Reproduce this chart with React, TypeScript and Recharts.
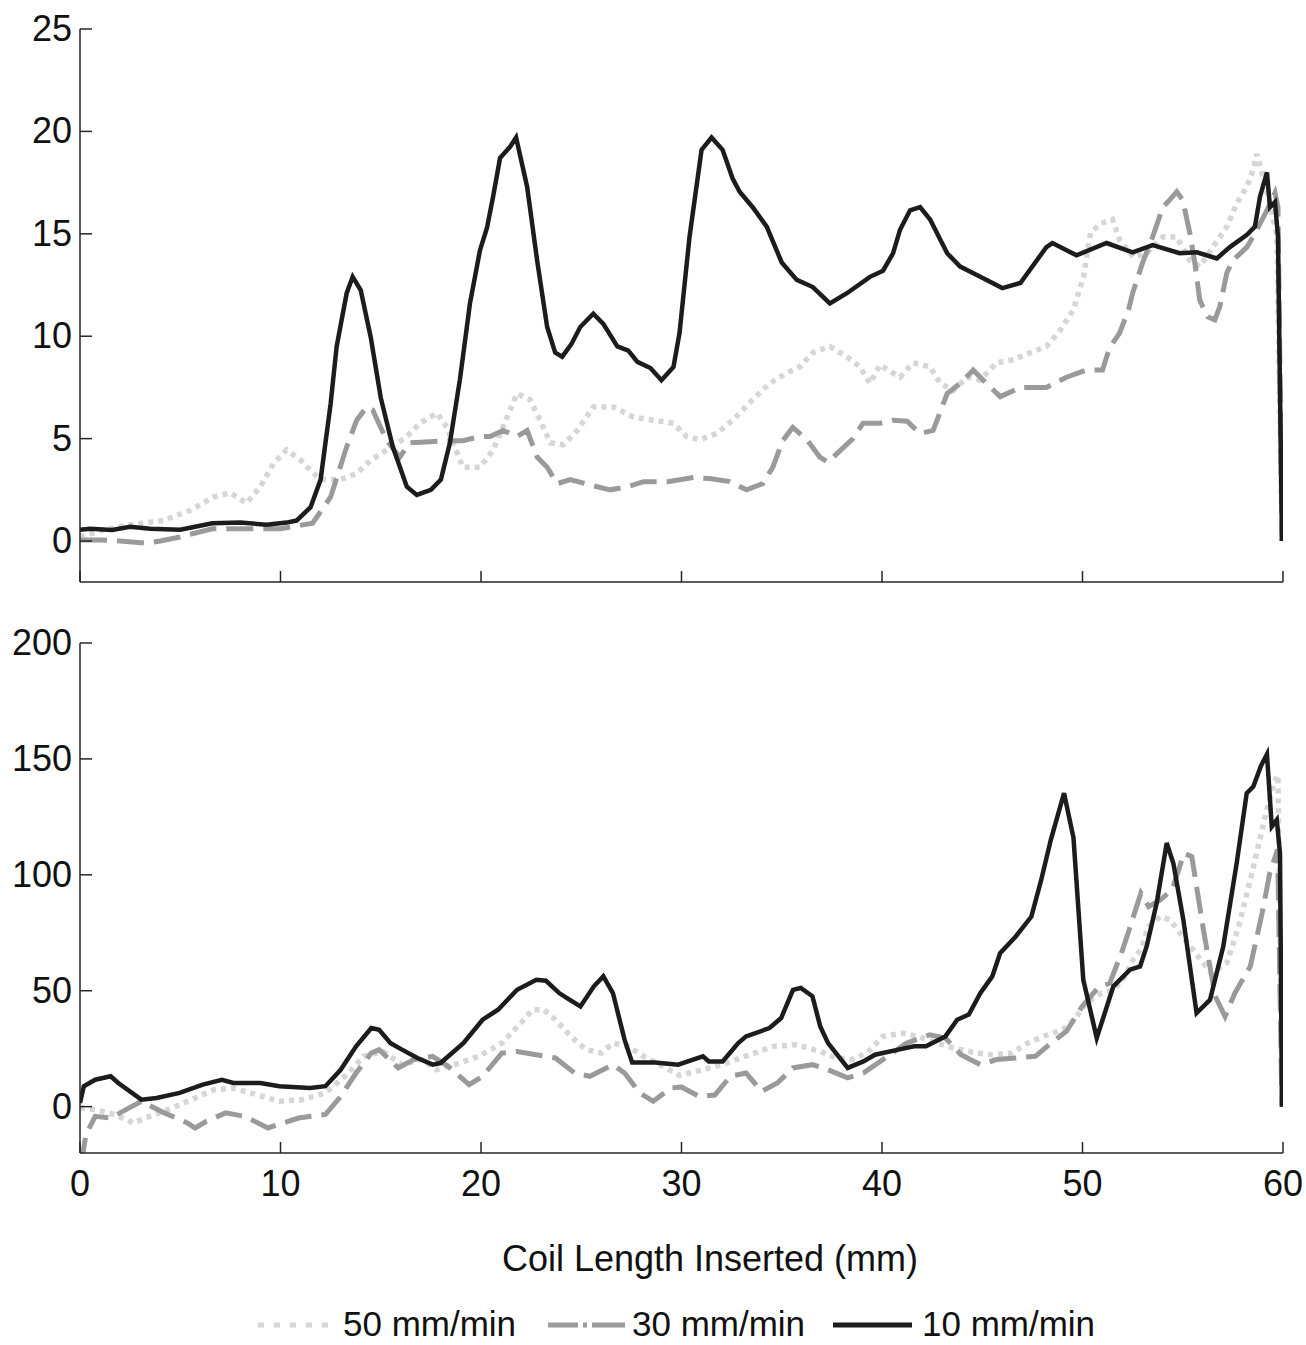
import { LineChart, Line, XAxis, YAxis } from 'recharts';

const FONT = '"Liberation Sans", Arial, Helvetica, sans-serif';
const AXIS = '#262626';
const C10 = '#1c1c1c';
const C30 = '#9a9a9a';
const C50 = '#d6d6d6';

const xTicks = [0, 10, 20, 30, 40, 50, 60];
const forceTicks = [0, 5, 10, 15, 20, 25];
const torqueTicks = [0, 50, 100, 150, 200];
const seriesNames = ['50 mm/min', '30 mm/min', '10 mm/min'];

// ---- upper panel ----
const top10x = [0, 0.5, 1.6, 2.5, 3.5, 5, 6.6, 8, 9.3, 10.3, 10.8, 11.5, 12, 12.5, 12.8, 13.3, 13.6, 14.0, 14.5, 15.0, 15.6, 16.3, 16.8, 17.5, 18.0, 18.45, 18.95, 19.45, 19.95, 20.3, 20.6, 20.95, 21.45, 21.75, 22.3, 22.8, 23.3, 23.7, 24.05, 24.5, 24.95, 25.6, 26.1, 26.8, 27.35, 27.8, 28.45, 29.0, 29.6, 29.9, 30.4, 31.0, 31.5, 32.05, 32.55, 32.9, 33.55, 34.25, 35.0, 35.75, 36.55, 37.4, 38.25, 39.4, 40.05, 40.55, 40.9, 41.4, 41.9, 42.4, 43.25, 43.9, 44.9, 46.0, 46.9, 48.2, 48.5, 49.7, 51.2, 52.5, 53.5, 54.85, 55.7, 56.7, 57.35, 58.2, 58.6, 58.85, 59.2, 59.35, 59.6, 59.75, 59.95];
const top10y = [0.55, 0.6, 0.54, 0.7, 0.6, 0.55, 0.87, 0.9, 0.8, 0.9, 1.0, 1.65, 3.0, 6.7, 9.5, 12.1, 12.9, 12.25, 9.95, 7.0, 4.6, 2.65, 2.25, 2.5, 3.0, 4.8, 7.9, 11.6, 14.2, 15.3, 16.8, 18.7, 19.25, 19.7, 17.3, 13.7, 10.45, 9.2, 9.0, 9.6, 10.45, 11.1, 10.6, 9.5, 9.3, 8.75, 8.45, 7.85, 8.5, 10.15, 14.85, 19.1, 19.7, 19.1, 17.7, 17.05, 16.3, 15.35, 13.6, 12.75, 12.4, 11.6, 12.1, 12.9, 13.2, 14.05, 15.2, 16.15, 16.3, 15.7, 14.05, 13.4, 12.9, 12.35, 12.6, 14.35, 14.55, 13.95, 14.55, 14.1, 14.45, 14.05, 14.1, 13.8, 14.35, 14.95, 15.35, 16.8, 18.0, 16.3, 16.55, 14.85, 0];

const top30x = [0, 1, 2, 3.3, 4, 5, 6.6, 8, 10, 11.6, 12.5, 13.3, 13.8, 14.3, 14.6, 15.3, 15.95, 16.45, 17.45, 18.3, 19.1, 19.95, 20.45, 21.1, 21.8, 22.3, 22.8, 23.3, 23.8, 24.45, 25.6, 26.45, 27.3, 28.1, 29.3, 30.6, 31.4, 32.4, 33.25, 34.05, 34.55, 35.05, 35.55, 36.25, 36.9, 37.3, 37.9, 38.55, 39.05, 39.9, 40.55, 41.25, 41.9, 42.55, 43.25, 43.9, 44.55, 45.05, 45.9, 46.9, 48.2, 49.2, 50.2, 51.0, 51.35, 51.85, 52.3, 52.5, 53.0, 53.5, 54.0, 54.25, 54.7, 55.0, 55.35, 55.6, 55.85, 56.25, 56.6, 56.85, 57.2, 57.5, 58.2, 58.7, 59.2, 59.6, 59.75, 59.95];
const top30y = [0.05, 0.05, 0.0, -0.1, 0.0, 0.2, 0.6, 0.6, 0.6, 0.87, 2.15, 4.6, 5.9, 6.55, 6.4, 4.9, 4.1, 4.8, 4.85, 4.9, 4.9, 5.1, 5.1, 5.4, 5.1, 5.4, 4.1, 3.6, 2.8, 3.0, 2.7, 2.5, 2.65, 2.9, 2.9, 3.1, 3.05, 2.9, 2.5, 2.8, 3.6, 4.9, 5.55, 4.95, 4.1, 3.85, 4.4, 5.0, 5.75, 5.75, 5.9, 5.85, 5.25, 5.4, 7.2, 7.7, 8.35, 7.85, 7.05, 7.5, 7.5, 8.0, 8.35, 8.35, 9.45, 10.15, 11.3, 12.1, 13.6, 14.85, 16.3, 16.55, 17.05, 16.65, 15.05, 13.6, 11.75, 10.95, 10.8, 11.45, 13.1, 13.7, 14.35, 15.2, 16.15, 17.0, 16.3, 0];

const top50x = [0, 1, 2.5, 4.15, 5.5, 6.65, 7.5, 8.3, 9.0, 9.65, 10.3, 11.0, 11.5, 12.0, 13.0, 13.8, 14.5, 15.3, 16.3, 16.95, 17.8, 18.3, 19.1, 19.95, 20.6, 21.3, 21.8, 22.45, 22.95, 23.45, 24.1, 24.8, 25.6, 26.6, 27.6, 28.6, 29.6, 30.25, 30.9, 31.75, 32.55, 33.55, 34.4, 35.25, 35.9, 36.55, 37.4, 38.25, 38.9, 39.4, 39.9, 40.55, 40.9, 41.55, 42.4, 42.9, 43.55, 44.25, 44.9, 45.7, 46.55, 47.4, 48.2, 48.9, 49.55, 50.05, 50.4, 50.9, 51.5, 51.85, 52.55, 53.2, 54.0, 54.7, 55.35, 55.85, 56.5, 57.2, 57.7, 58.2, 58.5, 58.7, 59.0, 59.35, 59.7, 59.95];
const top50y = [0.2, 0.5, 0.8, 1.0, 1.5, 2.15, 2.35, 1.85, 2.65, 3.8, 4.45, 3.95, 3.45, 3.0, 3.0, 3.3, 3.95, 4.45, 5.1, 5.75, 6.25, 5.55, 3.6, 3.6, 4.45, 6.05, 7.2, 6.9, 5.9, 4.8, 4.7, 5.4, 6.55, 6.55, 6.05, 5.9, 5.75, 5.1, 4.95, 5.25, 5.9, 6.9, 7.7, 8.2, 8.5, 9.2, 9.5, 9.0, 8.5, 7.7, 8.6, 8.2, 8.0, 8.7, 8.5, 7.7, 7.35, 8.0, 7.85, 8.7, 8.85, 9.2, 9.5, 10.3, 11.3, 12.9, 15.05, 15.5, 15.7, 14.7, 13.85, 14.05, 14.85, 14.85, 13.7, 13.4, 14.35, 15.35, 16.5, 17.3, 18.1, 18.9, 17.8, 16.5, 14.85, 0];

// ---- lower panel ----
const bot10x = [0, 0.19, 0.76, 1.53, 1.91, 3.06, 3.82, 4.97, 6.12, 7.08, 7.65, 8.99, 9.94, 11.47, 12.24, 13.0, 13.77, 14.53, 14.92, 15.49, 16.06, 16.83, 17.59, 17.98, 19.12, 20.08, 20.85, 21.8, 22.76, 23.24, 23.9, 24.29, 24.96, 25.63, 26.1, 26.58, 27.16, 27.54, 28.69, 29.83, 31.07, 31.36, 32.05, 32.83, 33.22, 34.39, 34.97, 35.56, 35.95, 36.53, 36.92, 37.31, 38.29, 39.07, 39.65, 40.82, 41.6, 42.19, 43.16, 43.75, 44.33, 44.91, 45.5, 45.89, 46.67, 47.45, 47.94, 48.42, 49.08, 49.55, 50.04, 50.71, 51.54, 52.37, 52.87, 53.2, 53.7, 54.2, 54.53, 55.03, 55.69, 56.36, 57.02, 57.69, 58.19, 58.52, 58.9, 59.2, 59.44, 59.69, 59.85, 59.95];
const bot10y = [1.6, 8.8, 11.6, 13.1, 10.2, 3.0, 3.7, 5.9, 9.5, 11.6, 10.2, 10.2, 8.8, 8.0, 8.8, 15.9, 26.0, 33.9, 33.2, 27.4, 24.6, 21.0, 18.1, 18.8, 27.4, 37.5, 41.8, 50.4, 54.7, 54.3, 49.0, 46.8, 43.2, 51.9, 56.2, 49.0, 28.9, 19.0, 19.0, 18.1, 21.7, 19.5, 19.5, 27.4, 30.3, 33.9, 38.2, 50.4, 51.2, 47.6, 34.6, 27.4, 16.7, 19.5, 22.4, 24.6, 26.0, 26.0, 30.3, 37.5, 39.7, 49.0, 56.2, 66.2, 73.4, 82.0, 97.8, 115.1, 135.2, 116.0, 54.7, 29.6, 51.9, 59.1, 60.5, 69.1, 87.8, 113.7, 105.0, 80.6, 40.4, 46.1, 69.1, 105.0, 135.2, 138.1, 147.0, 152.0, 120.8, 123.7, 109.3, 0];

const bot30x = [0.05, 0.3, 0.76, 1.53, 2.29, 3.06, 4.21, 5.35, 5.74, 6.31, 7.27, 8.22, 9.37, 10.14, 10.9, 12.24, 13.0, 13.77, 14.53, 14.92, 15.87, 16.64, 17.59, 18.36, 19.41, 20.08, 21.04, 21.8, 22.76, 23.71, 24.67, 25.43, 26.58, 27.16, 27.92, 28.59, 29.45, 29.99, 30.88, 31.66, 32.44, 33.22, 34.0, 34.78, 35.56, 36.53, 37.31, 38.29, 39.07, 40.04, 41.21, 42.38, 43.16, 43.94, 44.92, 45.7, 46.67, 47.65, 48.42, 49.2, 49.98, 50.77, 51.36, 51.94, 52.33, 52.91, 53.3, 53.88, 54.47, 55.06, 55.45, 56.03, 56.62, 57.11, 57.6, 58.37, 58.96, 59.34, 59.73, 59.95];
const bot30y = [-25, -12, -4.2, -4.9, -1.3, 2.3, -2.7, -7.0, -9.2, -6.3, -2.7, -4.2, -9.2, -7.0, -4.9, -3.4, 4.4, 14.5, 23.1, 24.6, 16.7, 20.3, 21.7, 17.4, 9.5, 13.1, 23.1, 23.8, 22.4, 21.0, 14.5, 13.1, 18.1, 14.5, 5.9, 2.3, 8.0, 8.5, 4.4, 5.0, 13.1, 14.5, 6.6, 10.2, 16.7, 18.1, 15.9, 12.4, 14.5, 20.3, 27.4, 31.0, 29.6, 22.4, 18.1, 20.3, 21.0, 21.7, 27.4, 32.5, 43.2, 51.2, 53.3, 66.2, 76.3, 92.1, 86.3, 89.2, 93.5, 109.3, 107.9, 76.3, 47.6, 38.9, 49.0, 60.5, 83.5, 100.7, 110.8, 0];

const bot50x = [0, 0.76, 1.72, 2.68, 3.25, 4.4, 5.55, 6.69, 7.65, 8.8, 9.94, 11.09, 12.24, 13.39, 14.15, 15.11, 16.06, 17.02, 17.79, 18.93, 19.89, 21.04, 21.99, 22.57, 23.14, 23.71, 24.48, 25.24, 26.0, 26.58, 27.35, 28.11, 29.07, 29.9, 31.07, 32.24, 33.41, 34.58, 35.75, 36.92, 37.7, 38.48, 39.26, 40.04, 41.02, 41.8, 42.77, 43.55, 44.72, 45.5, 46.47, 47.26, 48.04, 49.01, 49.6, 50.18, 50.96, 51.55, 52.13, 52.52, 52.91, 53.3, 53.88, 54.37, 54.86, 55.64, 56.42, 57.2, 57.79, 58.37, 58.76, 59.15, 59.54, 59.75, 59.95];
const bot50y = [-0.6, -1.3, -3.4, -7.0, -4.9, -1.3, 3.0, 7.3, 8.0, 5.2, 2.3, 3.0, 5.9, 14.5, 21.7, 23.8, 18.1, 20.3, 15.9, 18.8, 21.7, 27.4, 36.1, 41.8, 41.8, 37.5, 30.3, 24.6, 23.1, 27.4, 26.0, 21.7, 17.4, 13.5, 15.9, 18.8, 22.4, 26.0, 26.7, 23.8, 21.0, 20.3, 23.1, 30.3, 31.7, 30.3, 27.4, 25.3, 23.1, 22.4, 23.1, 27.4, 30.3, 33.2, 37.5, 44.7, 49.0, 50.4, 56.2, 63.4, 67.7, 77.7, 82.0, 80.6, 74.9, 66.2, 57.6, 62.0, 77.7, 97.8, 112.2, 126.6, 139.6, 143.0, 0];

const pts = (xs: number[], ys: number[]) => xs.map((x, i) => ({ x, y: ys[i] }));

function YTick(props: any) {
  const { x, y, payload } = props;
  return (
    <g>
      <line x1={x} y1={y} x2={x + 12} y2={y} stroke={AXIS} strokeWidth={1.5} />
      <text x={x - 8} y={y + 12} textAnchor="end" fontSize={36} fontFamily={FONT} fill="#111">
        {payload.value}
      </text>
    </g>
  );
}

function XTickBare(props: any) {
  const { x, y } = props;
  return <line x1={x} y1={y} x2={x} y2={y - 11} stroke={AXIS} strokeWidth={1.5} />;
}

function XTickLabel(props: any) {
  const { x, y, payload } = props;
  return (
    <g>
      <line x1={x} y1={y} x2={x} y2={y - 11} stroke={AXIS} strokeWidth={1.5} />
      <text x={x} y={y + 43} textAnchor="middle" fontSize={36} fontFamily={FONT} fill="#111">
        {payload.value}
      </text>
    </g>
  );
}

function Panel({ top, height, marginTop, xAxisHeight, yDomain, yTicks, s50, s30, s10, labels }: any) {
  return (
    <div style={{ position: 'absolute', left: 0, top, width: 1306, height }}>
      <LineChart width={1306} height={height} margin={{ top: marginTop, right: 23, bottom: 0, left: 0 }}>
        <XAxis
          type="number" dataKey="x" domain={[0, 60]} ticks={xTicks} allowDataOverflow
          height={xAxisHeight} tickSize={0} tickMargin={0} tickLine={false}
          axisLine={{ stroke: AXIS, strokeWidth: 1.5 }}
          tick={labels ? <XTickLabel /> : <XTickBare />}
        />
        <YAxis
          type="number" domain={yDomain} ticks={yTicks} allowDataOverflow
          width={80} tickSize={0} tickMargin={0} tickLine={false}
          axisLine={{ stroke: AXIS, strokeWidth: 1.5 }}
          tick={<YTick />}
        />
        <Line data={s50} dataKey="y" name={seriesNames[0]} type="linear" stroke={C50} strokeWidth={5.5}
          strokeDasharray="5 5" dot={false} activeDot={false} isAnimationActive={false} />
        <Line data={s30} dataKey="y" name={seriesNames[1]} type="linear" stroke={C30} strokeWidth={5}
          strokeDasharray="27 10" dot={false} activeDot={false} isAnimationActive={false} />
        <Line data={s10} dataKey="y" name={seriesNames[2]} type="linear" stroke={C10} strokeWidth={4.5}
          dot={false} activeDot={false} isAnimationActive={false} />
      </LineChart>
    </div>
  );
}

export default function App() {
  return (
    <div style={{ position: 'absolute', left: 0, top: 0, width: 1306, height: 1345, overflow: 'hidden', background: '#fff', fontFamily: FONT }}>
      <Panel top={0} height={600} marginTop={29} xAxisHeight={18} yDomain={[-2, 25]} yTicks={forceTicks}
        s50={pts(top50x, top50y)} s30={pts(top30x, top30y)} s10={pts(top10x, top10y)} labels={false} />
      <Panel top={600} height={620} marginTop={43} xAxisHeight={67} yDomain={[-20, 200]} yTicks={torqueTicks}
        s50={pts(bot50x, bot50y)} s30={pts(bot30x, bot30y)} s10={pts(bot10x, bot10y)} labels />

      {/* axis title + legend */}
      <svg style={{ position: 'absolute', left: 0, top: 1220 }} width={1306} height={125}>
        <text x={710} y={51} textAnchor="middle" fontSize={36} fontFamily={FONT} fill="#111">
          Coil Length Inserted (mm)
        </text>
        <line x1={258} y1={105} x2={335} y2={105} stroke={C50} strokeWidth={5} strokeDasharray="6 10" />
        <text x={343} y={116} fontSize={35} fontFamily={FONT} fill="#111">{seriesNames[0]}</text>
        <line x1={548} y1={105} x2={625} y2={105} stroke={C30} strokeWidth={5} strokeDasharray="30 5 4 5 33" />
        <text x={632} y={116} fontSize={35} fontFamily={FONT} fill="#111">{seriesNames[1]}</text>
        <line x1={833} y1={105} x2={912} y2={105} stroke={C10} strokeWidth={5} />
        <text x={922} y={116} fontSize={35} fontFamily={FONT} fill="#111">{seriesNames[2]}</text>
      </svg>
    </div>
  );
}
